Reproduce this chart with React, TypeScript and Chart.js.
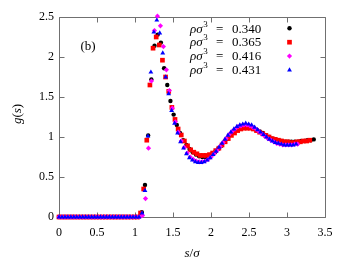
import React, { useEffect, useRef } from 'react';
import { Chart, registerables } from 'chart.js';

Chart.register(...registerables);

const SERIF = "'Liberation Serif', 'DejaVu Serif', serif";

// densities (legend labels)
const densityLabels = ['0.340', '0.365', '0.416', '0.431'];
const seriesColors = ['#000000', '#ff0000', '#ff00ff', '#0000ff'];
const seriesStyles = ['circle', 'rect', 'rectRot', 'triangle'];
const seriesRadii = [2.2, 3.3, 2.6, 2.8];

// histogram bin widths in s/σ for each density
const binWidths = [0.0419, 0.04125, 0.03925, 0.039];

// g(s) values per bin
const gBlack = [
  0, 0, 0, 0, 0, 0, 0, 0, 0, 0, 0, 0, 0, 0, 0, 0, 0, 0, 0, 0, 0, 0, 0, 0, 0, 0,
  0.06, 0.40, 1.02, 1.72, 2.14, 2.28, 2.18, 1.86, 1.65, 1.45, 1.28, 1.15, 1.05, 0.96, 0.90,
  0.85, 0.81, 0.78, 0.76, 0.75, 0.75, 0.76, 0.78, 0.81, 0.85, 0.89, 0.94, 0.98, 1.03, 1.06,
  1.09, 1.11, 1.12, 1.13, 1.12, 1.11, 1.09, 1.07, 1.05, 1.02, 1.00, 0.98, 0.97, 0.96, 0.95,
  0.94, 0.94, 0.94, 0.94, 0.94, 0.95, 0.95, 0.96, 0.96, 0.97,
];
const gRed = [
  0, 0, 0, 0, 0, 0, 0, 0, 0, 0, 0, 0, 0, 0, 0, 0, 0, 0, 0, 0, 0, 0, 0, 0, 0, 0,
  0.05, 0.35, 0.96, 1.65, 2.11, 2.25, 2.15, 1.96, 1.75, 1.57, 1.37, 1.22, 1.10, 1.025, 0.95,
  0.89, 0.84, 0.81, 0.79, 0.77, 0.77, 0.77, 0.78, 0.80, 0.83, 0.86, 0.90, 0.94, 0.98, 1.02,
  1.05, 1.08, 1.10, 1.11, 1.11, 1.11, 1.10, 1.08, 1.06, 1.04, 1.02, 1.00, 0.98, 0.97, 0.96,
  0.95, 0.94, 0.94, 0.93, 0.93, 0.94, 0.94, 0.95, 0.95, 0.96,
];
const gMagenta = [
  0, 0, 0, 0, 0, 0, 0, 0, 0, 0, 0, 0, 0, 0, 0, 0, 0, 0, 0, 0, 0, 0, 0, 0, 0, 0, 0, 0,
  0.02, 0.23, 0.86, 1.70, 2.33, 2.51, 2.39, 2.13, 1.84, 1.58, 1.36, 1.19, 1.06, 0.95,
  0.87, 0.80, 0.75, 0.72, 0.70, 0.69, 0.69, 0.70, 0.72, 0.75, 0.79, 0.83, 0.88, 0.93,
  0.98, 1.03, 1.07, 1.10, 1.13, 1.14, 1.15, 1.15, 1.14, 1.12, 1.10, 1.07, 1.04, 1.01,
  0.98, 0.96, 0.94, 0.92, 0.91, 0.90, 0.90, 0.90, 0.90, 0.91, 0.91,
];
const gBlue = [
  0, 0, 0, 0, 0, 0, 0, 0, 0, 0, 0, 0, 0, 0, 0, 0, 0, 0, 0, 0, 0, 0, 0, 0, 0, 0, 0, 0,
  0.05, 0.33, 1.01, 1.81, 2.31, 2.46, 2.30, 2.05, 1.75, 1.54, 1.33, 1.17, 1.05, 0.94,
  0.86, 0.79, 0.74, 0.71, 0.69, 0.68, 0.68, 0.69, 0.71, 0.74, 0.78, 0.82, 0.87, 0.92,
  0.97, 1.02, 1.06, 1.10, 1.13, 1.15, 1.16, 1.17, 1.16, 1.15, 1.12, 1.09, 1.06, 1.03,
  1.00, 0.97, 0.95, 0.93, 0.92, 0.91, 0.90, 0.90, 0.90, 0.90, 0.91,
];
const gSeries = [gBlack, gRed, gMagenta, gBlue];

const xTicks = [0, 0.5, 1, 1.5, 2, 2.5, 3, 3.5];
const yTicks = [0, 0.5, 1, 1.5, 2, 2.5];

type Seg = { t: string; italic?: boolean; size?: number; dy?: number };

function segWidth(ctx: CanvasRenderingContext2D, segs: Seg[]) {
  let w = 0;
  segs.forEach((s) => {
    ctx.font = `${s.italic ? 'italic ' : ''}${s.size || 13}px ${SERIF}`;
    w += ctx.measureText(s.t).width;
  });
  return w;
}

function drawSegs(ctx: CanvasRenderingContext2D, segs: Seg[], x: number, y: number) {
  let cx = x;
  segs.forEach((s) => {
    ctx.font = `${s.italic ? 'italic ' : ''}${s.size || 13}px ${SERIF}`;
    ctx.fillText(s.t, cx, y + (s.dy || 0));
    cx += ctx.measureText(s.t).width;
  });
}

function drawMarker(ctx: CanvasRenderingContext2D, style: string, x: number, y: number, r: number, color: string) {
  ctx.fillStyle = color;
  ctx.beginPath();
  if (style === 'circle') {
    ctx.arc(x, y, r, 0, Math.PI * 2);
  } else if (style === 'rect') {
    const s = r * Math.SQRT1_2;
    ctx.rect(x - s, y - s, 2 * s, 2 * s);
  } else if (style === 'rectRot') {
    ctx.moveTo(x, y - r);
    ctx.lineTo(x + r, y);
    ctx.lineTo(x, y + r);
    ctx.lineTo(x - r, y);
    ctx.closePath();
  } else {
    ctx.moveTo(x, y - r);
    ctx.lineTo(x + r * 0.866, y + r * 0.5);
    ctx.lineTo(x - r * 0.866, y + r * 0.5);
    ctx.closePath();
  }
  ctx.fill();
}

const framePlugin = {
  id: 'frame',
  beforeDatasetsDraw(chart: any) {
    const { ctx, chartArea } = chart;
    const { left, right, top, bottom } = chartArea;
    const xs = chart.scales.x;
    const ys = chart.scales.y;
    ctx.save();
    ctx.strokeStyle = '#707070';
    ctx.lineWidth = 1;
    ctx.beginPath();
    const L = Math.round(left) + 0.5;
    const R = Math.round(right) + 0.5;
    const T = Math.round(top) + 0.5;
    const B = Math.round(bottom) + 0.5;
    ctx.rect(L, T, R - L, B - T);
    xTicks.forEach((v) => {
      const px = Math.round(xs.getPixelForValue(v)) + 0.5;
      ctx.moveTo(px, B);
      ctx.lineTo(px, B - 5);
      ctx.moveTo(px, T);
      ctx.lineTo(px, T + 5);
    });
    yTicks.forEach((v) => {
      const py = Math.round(ys.getPixelForValue(v)) + 0.5;
      ctx.moveTo(L, py);
      ctx.lineTo(L + 5, py);
      ctx.moveTo(R, py);
      ctx.lineTo(R - 5, py);
    });
    ctx.stroke();
    ctx.restore();
  },
  afterDraw(chart: any) {
    const { ctx } = chart;
    ctx.save();
    ctx.fillStyle = '#000';
    ctx.textBaseline = 'alphabetic';
    ctx.textAlign = 'left';

    // legend
    densityLabels.forEach((lab, i) => {
      const base = 32.5 + i * 13.9;
      ctx.fillStyle = '#000';
      drawSegs(ctx, [{ t: 'ρσ', italic: true }], 190, base);
      ctx.font = `italic 13px ${SERIF}`;
      const w = ctx.measureText('ρσ').width;
      drawSegs(ctx, [{ t: '3', size: 9 }], 190 + w + 0.5, base - 6);
      drawSegs(ctx, [{ t: '=' }], 216, base);
      drawSegs(ctx, [{ t: lab }], 232, base);
      drawMarker(ctx, seriesStyles[i], 289.5, 28.3 + i * 13.9, seriesRadii[i], seriesColors[i]);
    });

    // panel label
    ctx.fillStyle = '#000';
    const pb: Seg[] = [{ t: '(b)' }];
    drawSegs(ctx, pb, 88 - segWidth(ctx, pb) / 2, 50);

    // x title
    const xt: Seg[] = [{ t: 's', italic: true }, { t: '/' }, { t: 'σ', italic: true }];
    ctx.fillStyle = '#000';
    drawSegs(ctx, xt, 192 - segWidth(ctx, xt) / 2, 257);

    // y title
    const yt: Seg[] = [{ t: 'g', italic: true }, { t: '(' }, { t: 's', italic: true }, { t: ')' }];
    ctx.translate(21, 114);
    ctx.rotate(-Math.PI / 2);
    ctx.fillStyle = '#000';
    drawSegs(ctx, yt, -segWidth(ctx, yt) / 2, 0);
    ctx.restore();
  },
};

export default function App() {
  const ref = useRef<HTMLCanvasElement | null>(null);

  useEffect(() => {
    if (!ref.current) return;
    const order = [3, 2, 1, 0]; // blue drawn on top
    const datasets = order.map((k) => ({
      label: densityLabels[k],
      data: gSeries[k].map((g, i) => ({ x: i * binWidths[k], y: g })),
      showLine: false,
      pointStyle: seriesStyles[k] as any,
      pointRadius: seriesRadii[k],
      pointBackgroundColor: seriesColors[k],
      pointBorderWidth: 0,
      borderWidth: 0,
      borderColor: seriesColors[k],
      backgroundColor: seriesColors[k],
      clip: false as any,
    }));
    const tickFont = { family: SERIF, size: 12 };
    const fmt = (v: any) => String(Math.round(Number(v) * 10) / 10);
    const chart = new Chart(ref.current, {
      type: 'scatter',
      data: { datasets },
      options: {
        responsive: false,
        animation: false,
        devicePixelRatio: 1,
        layout: { padding: { top: 17, right: 25, left: 0, bottom: 0 } },
        plugins: { legend: { display: false }, tooltip: { enabled: false } },
        scales: {
          x: {
            type: 'linear',
            min: 0,
            max: 3.5,
            afterFit: (s: any) => {
              s.height = 46;
            },
            ticks: { stepSize: 0.5, font: tickFont, color: '#000', padding: 9, maxRotation: 0, autoSkip: false, callback: fmt },
            grid: { display: false, drawTicks: false },
            border: { display: false },
          },
          y: {
            type: 'linear',
            min: 0,
            max: 2.5,
            afterFit: (s: any) => {
              s.width = 59;
            },
            ticks: { stepSize: 0.5, font: tickFont, color: '#000', padding: 5, callback: fmt },
            grid: { display: false, drawTicks: false },
            border: { display: false },
          },
        },
      },
      plugins: [framePlugin],
    });
    return () => chart.destroy();
  }, []);

  return (
    <div style={{ position: 'absolute', left: 0, top: 0, width: 350, height: 263, background: '#fff' }}>
      <canvas ref={ref} width={350} height={263} style={{ display: 'block' }} />
    </div>
  );
}
